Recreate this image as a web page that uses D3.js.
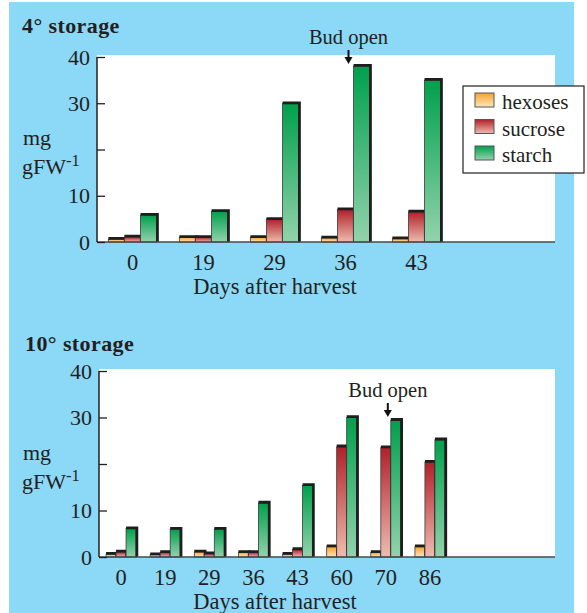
<!DOCTYPE html>
<html>
<head>
<meta charset="utf-8">
<script src="https://cdn.jsdelivr.net/npm/d3@7"></script>
<style>
  html, body { margin: 0; padding: 0; background: #ffffff; }
  svg { display: block; }
  text { font-family: "Liberation Serif", "Times New Roman", serif; fill: #231f20; }
</style>
</head>
<body>
<svg id="chart" width="587" height="613"></svg>
<script>
// Sugar and starch content (mg per g fresh weight) during storage
const seriesNames = ["hexoses", "sucrose", "starch"];

const daysCold = ["0", "19", "29", "36", "43"];
const hexosesCold = [0.6, 1.0, 1.0, 0.9, 0.7];
const sucroseCold = [1.1, 1.0, 4.9, 7.0, 6.5];
const starchCold  = [5.8, 6.6, 29.9, 38.0, 35.0];

const daysWarm = ["0", "19", "29", "36", "43", "60", "70", "86"];
const hexosesWarm = [0.6, 0.5, 1.1, 1.0, 0.6, 2.2, 1.0, 2.2];
const sucroseWarm = [1.1, 1.0, 0.7, 1.0, 1.6, 23.7, 23.5, 20.4];
const starchWarm  = [6.1, 6.0, 6.0, 11.6, 15.4, 30.0, 29.4, 25.2];

const yTicks = [0, 10, 20, 30, 40];
const yTickLabels = ["0", "10", "", "30", "40"];

const colors = {
  hexoses: ["#f6a52a", "#fde6bf"],
  sucrose: ["#b1202a", "#eebcae"],
  starch:  ["#00a04c", "#93d3ac"]
};

const svg = d3.select("#chart");

// background panel
svg.append("rect").attr("x", 9).attr("y", 2).attr("width", 565).attr("height", 611)
  .attr("fill", "#8cd8f7");

// vertical gradients, dark at top fading to light at the base
const defs = svg.append("defs");
seriesNames.forEach(s => {
  const g = defs.append("linearGradient").attr("id", "grad-" + s)
    .attr("x1", 0).attr("y1", 0).attr("x2", 0).attr("y2", 1);
  g.append("stop").attr("offset", "0%").attr("stop-color", colors[s][0]);
  g.append("stop").attr("offset", "100%").attr("stop-color", colors[s][1]);
});

function drawPanel(cfg) {
  const { title, titleY, days, values, top, bottom, left, bandRight, plotRight, bud } = cfg;
  const g = svg.append("g");

  // white plotting area
  g.append("rect").attr("x", left).attr("y", top - 1)
    .attr("width", plotRight - left).attr("height", bottom - top + 1)
    .attr("fill", "#ffffff");

  const y = d3.scaleLinear().domain([0, 40]).range([bottom, top + 1]);
  const x = d3.scaleBand().domain(days).range([left, bandRight]).paddingInner(0).paddingOuter(0);
  const xs = d3.scaleBand().domain(seriesNames).range([0, x.bandwidth() * 0.68]);
  const groupOffset = (x.bandwidth() - xs.range()[1]) / 2;

  // bars
  seriesNames.forEach((s, si) => {
    const vals = values[si];
    days.forEach((d, i) => {
      const bx = x(d) + groupOffset + xs(s);
      const bw = xs.bandwidth();
      const by = y(vals[i]);
      const bh = y(0) - by;
      g.append("rect").attr("x", bx).attr("y", by).attr("width", bw).attr("height", bh)
        .attr("fill", `url(#grad-${s})`).attr("stroke", "#3a3a3a").attr("stroke-width", 0.8);
      // dark rim along the top and right edge
      g.append("path")
        .attr("d", `M${bx},${by - 0.8} L${bx + bw + 0.8},${by - 0.8} L${bx + bw + 0.8},${y(0)}`)
        .attr("fill", "none").attr("stroke", "#1e1e1e").attr("stroke-width", 2.8);
    });
  });

  // x axis line
  g.append("line").attr("x1", left).attr("x2", plotRight).attr("y1", bottom).attr("y2", bottom)
    .attr("stroke", "#4a4a4a").attr("stroke-width", 1.5);

  // y axis with inward ticks
  const yAxis = d3.axisRight(y).tickValues(yTicks).tickSize(8).tickFormat("");
  const ya = g.append("g").attr("transform", `translate(${left},0)`).call(yAxis);
  ya.select(".domain").attr("d", `M0,${y(40)}V${y(0)}`).attr("stroke", "#231f20").attr("stroke-width", 1.5);
  ya.selectAll(".tick line").attr("stroke", "#231f20").attr("stroke-width", 1.3);

  // y tick labels
  g.selectAll(".ylab").data(yTicks).enter().append("text")
    .attr("x", left - 7).attr("y", d => y(d) + 7.5)
    .attr("text-anchor", "end").attr("font-size", 22)
    .text((d, i) => yTickLabels[i]);

  // x tick labels
  g.selectAll(".xlab").data(days).enter().append("text")
    .attr("x", d => x(d) + x.bandwidth() / 2).attr("y", bottom + 28)
    .attr("text-anchor", "middle").attr("font-size", 22.5)
    .text(d => d);

  // axis titles
  g.append("text").attr("x", 275).attr("y", bottom + 52).attr("text-anchor", "middle")
    .attr("font-size", 22.5).text("Days after harvest");
  const yl = bottom - 97;
  g.append("text").attr("x", 23).attr("y", yl).attr("font-size", 22).text("mg");
  const t2 = g.append("text").attr("x", 22).attr("y", yl + 29).attr("font-size", 22);
  t2.append("tspan").text("gFW");
  t2.append("tspan").attr("dy", -8).attr("font-size", 16.5).text("-1");

  // panel title
  g.append("text").attr("x", cfg.titleX).attr("y", titleY).attr("font-size", 22)
    .attr("font-weight", "bold").attr("letter-spacing", 0.4).text(title);

  // bud-open marker
  const bx = x(bud.day) + x.bandwidth() / 2 + bud.dx;
  g.append("text").attr("x", bx).attr("y", bud.textY).attr("text-anchor", "middle")
    .attr("font-size", 20.5).text("Bud open");
  g.append("line").attr("x1", bx).attr("x2", bx).attr("y1", bud.textY + 6).attr("y2", bud.textY + 14)
    .attr("stroke", "#111").attr("stroke-width", 2);
  g.append("path")
    .attr("d", `M${bx - 4},${bud.textY + 13} L${bx + 4},${bud.textY + 13} L${bx},${bud.textY + 20} Z`)
    .attr("fill", "#111");
}

drawPanel({
  title: "4° storage", titleX: 22, titleY: 33,
  days: daysCold, values: [hexosesCold, sucroseCold, starchCold],
  top: 56, bottom: 242, left: 97, bandRight: 452, plotRight: 555,
  bud: { day: "36", dx: 3, textY: 44 }
});

drawPanel({
  title: "10° storage", titleX: 25, titleY: 351,
  days: daysWarm, values: [hexosesWarm, sucroseWarm, starchWarm],
  top: 370, bottom: 557, left: 99, bandRight: 452, plotRight: 555,
  bud: { day: "70", dx: 2, textY: 397 }
});

// legend
const lg = svg.append("g");
lg.append("rect").attr("x", 463).attr("y", 86).attr("width", 121).attr("height", 87)
  .attr("fill", "#ffffff").attr("stroke", "#231f20").attr("stroke-width", 1.2);
seriesNames.forEach((s, i) => {
  const yy = 93 + i * 26.5;
  lg.append("rect").attr("x", 475).attr("y", yy).attr("width", 19).attr("height", 14)
    .attr("fill", `url(#grad-${s})`).attr("stroke", "#555").attr("stroke-width", 1);
  lg.append("text").attr("x", 502).attr("y", yy + 16).attr("font-size", 21).text(s);
});
</script>
</body>
</html>
